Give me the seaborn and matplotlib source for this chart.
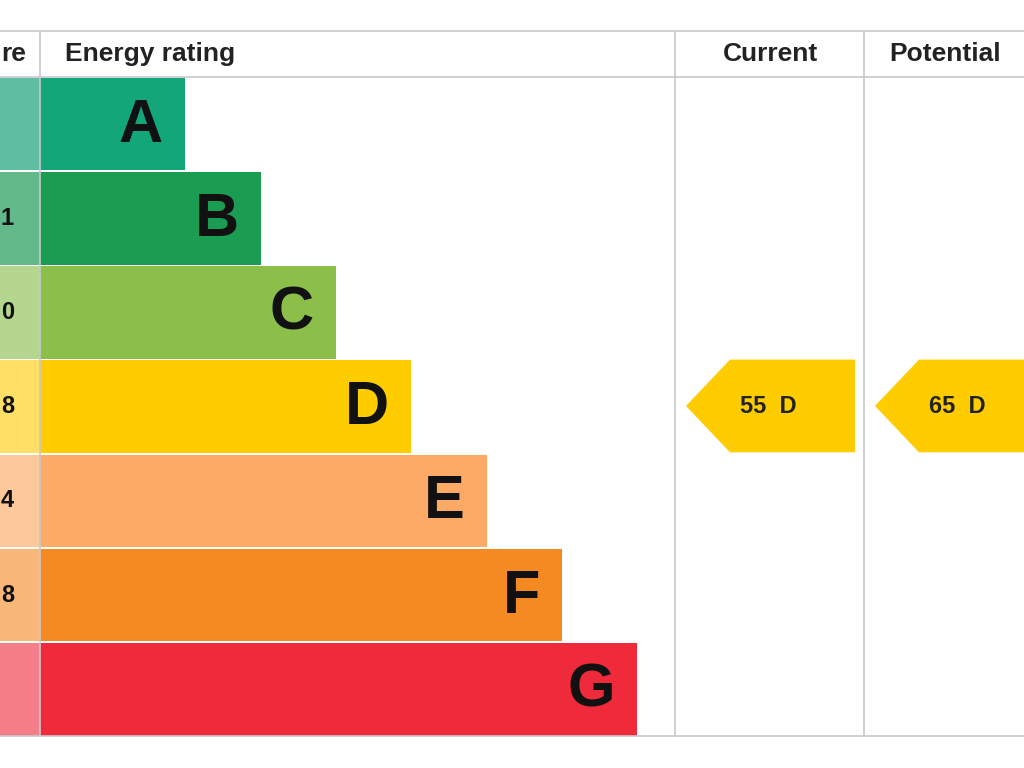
import matplotlib
matplotlib.use("Agg")
import matplotlib.pyplot as plt
import seaborn as sns
from matplotlib.patches import Polygon

sns.set_theme(style="white")
plt.rcParams['font.family'] = ['Liberation Sans', 'DejaVu Sans']

bands = ["A", "B", "C", "D", "E", "F", "G"]
score_suffix = ["", "1", "0", "8", "4", "8", ""]
bar_ends = [185, 261, 336, 411, 487, 562, 637]
colors = ["#12a679", "#1b9c53", "#8cbf4a", "#ffcc00", "#fcaa65", "#f68a22", "#ee2a3b"]
light = ["#5fbea2", "#63b98a", "#b5d68e", "#ffdf66", "#fdc99a", "#f9b87a", "#f47f88"]
current_val, current_band = 55, "D"
potential_val, potential_band = 65, "D"

fig = plt.figure(figsize=(10.24, 7.68), dpi=100)
ax = fig.add_axes([0, 0, 1, 1])
ax.set_xlim(0, 1024)
ax.set_ylim(768, 0)
ax.axis("off")

top, rh = 77, 94.2
ys = [top + i * rh for i in range(len(bands))]
ax.barh([y + rh / 2 for y in ys], [e - 40 for e in bar_ends], left=40,
        height=rh - 1.5, color=colors, linewidth=0)
ax.barh([y + rh / 2 for y in ys], [40] * len(bands), left=0,
        height=rh - 1.5, color=light, linewidth=0)
for y, b, e, s in zip(ys, bands, bar_ends, score_suffix):
    ax.text(e - 22, y + rh / 2 + 2, b, ha="right", va="center", fontsize=44,
            fontweight="bold", color="#111111")
    if s:
        ax.text(14, y + rh / 2, s, ha="right", va="center", fontsize=17,
                fontweight="bold", color="#111111")

lc = "#c8c8cc"
for yy in [31, 77, 736]:
    ax.plot([0, 1024], [yy, yy], color=lc, lw=1.2)
for xx in [40, 675, 864]:
    ax.plot([xx, xx], [31, 736], color=lc, lw=1.2)

ax.text(26, 54, "re", ha="right", va="center", fontsize=19, fontweight="bold", color="#222")
ax.text(65, 54, "Energy rating", ha="left", va="center", fontsize=19, fontweight="bold", color="#222")
ax.text(770, 54, "Current", ha="center", va="center", fontsize=19, fontweight="bold", color="#222")
ax.text(889, 54, "Potential", ha="left", va="center", fontsize=19, fontweight="bold", color="#222")

def arrow(tip, right, val, band, row):
    y0 = ys[row]; y1 = y0 + rh - 1.5
    ym = (y0 + y1) / 2
    ax.add_patch(Polygon([(tip, ym), (tip + 44, y0), (right, y0), (right, y1), (tip + 44, y1)],
                         closed=True, color="#ffcc00", lw=0))
    ax.text(tip + 54, ym + 1, f"{val}  {band}", ha="left", va="center", fontsize=17,
            fontweight="bold", color="#222")

arrow(686, 855, current_val, current_band, bands.index(current_band))
arrow(875, 1030, potential_val, potential_band, bands.index(potential_band))

fig.savefig("out.png", dpi=100)
